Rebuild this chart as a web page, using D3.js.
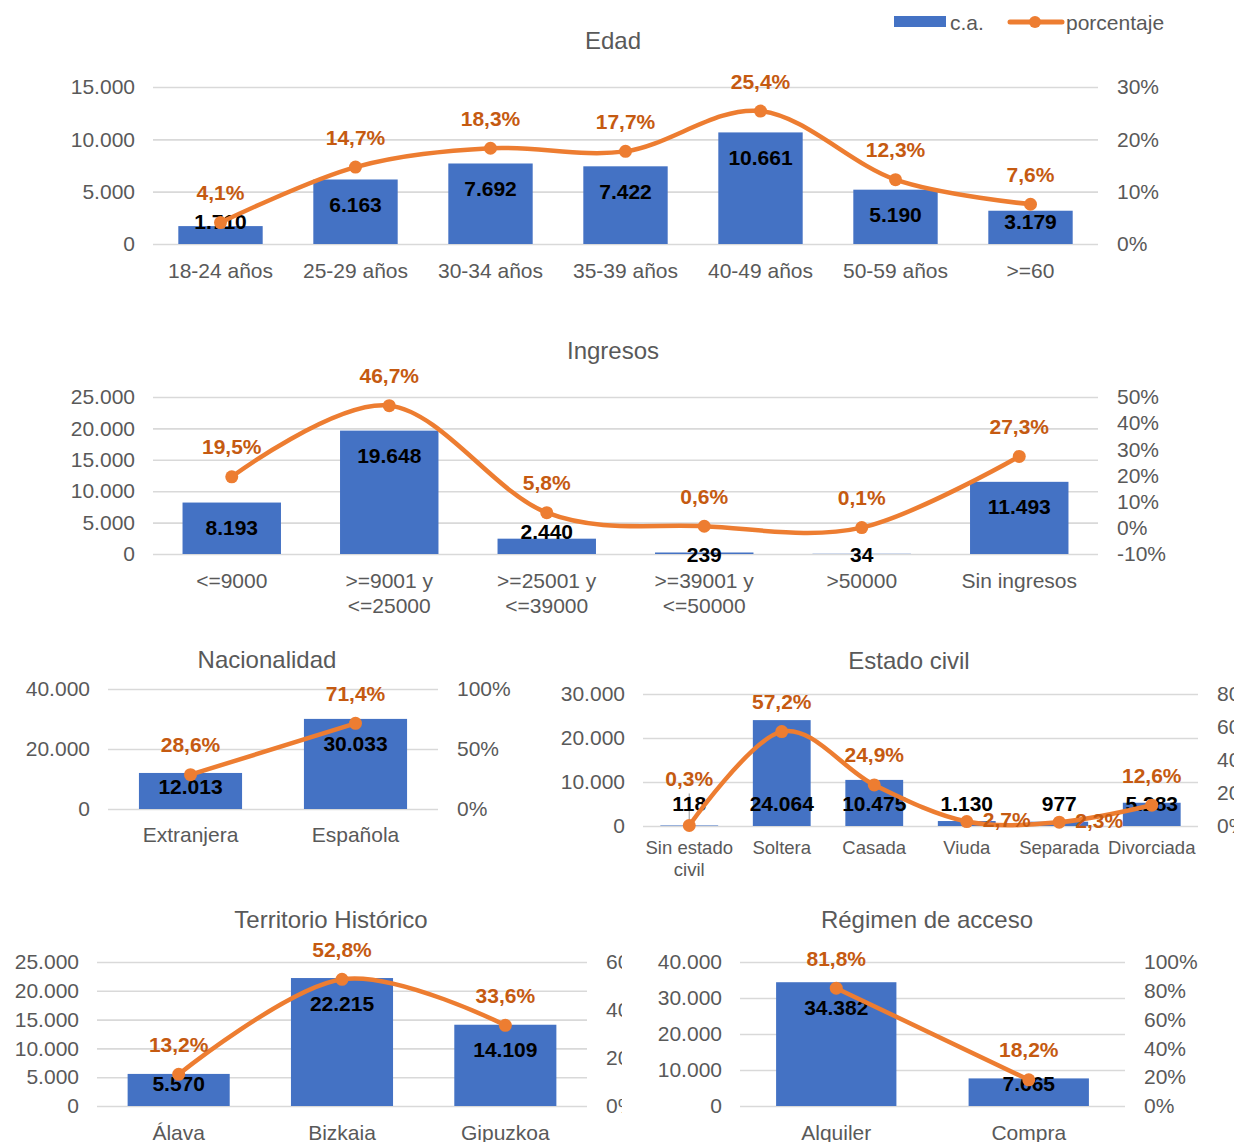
<!DOCTYPE html>
<html>
<head>
<meta charset="utf-8">
<script src="https://cdn.jsdelivr.net/npm/d3@7"></script>
<style>
  body { margin: 0; background: #fff; }
  text { font-family: "Liberation Sans", Arial, sans-serif; }
</style>
</head>
<body>
<script>
// --- data ---
const edadCats = ["18-24 años", "25-29 años", "30-34 años", "35-39 años", "40-49 años", "50-59 años", ">=60"];
const edadCa = [1710, 6163, 7692, 7422, 10661, 5190, 3179];
const edadPct = [4.1, 14.7, 18.3, 17.7, 25.4, 12.3, 7.6];

const ingresosCats = ["<=9000", ">=9001 y <=25000", ">=25001 y <=39000", ">=39001 y <=50000", ">50000", "Sin ingresos"];
const ingresosCa = [8193, 19648, 2440, 239, 34, 11493];
const ingresosPct = [19.5, 46.7, 5.8, 0.6, 0.1, 27.3];

const nacCats = ["Extranjera", "Española"];
const nacCa = [12013, 30033];
const nacPct = [28.6, 71.4];

const civilCats = ["Sin estado civil", "Soltera", "Casada", "Viuda", "Separada", "Divorciada"];
const civilCa = [118, 24064, 10475, 1130, 977, 5283];
const civilPct = [0.3, 57.2, 24.9, 2.7, 2.3, 12.6];

const terrCats = ["Álava", "Bizkaia", "Gipuzkoa"];
const terrCa = [5570, 22215, 14109];
const terrPct = [13.2, 52.8, 33.6];

const regCats = ["Alquiler", "Compra"];
const regCa = [34382, 7665];
const regPct = [81.8, 18.2];

const barColor = "#4472C4";
const lineColor = "#ED7D31";
const pctColor = "#C55A11";
const axisColor = "#595959";
const gridColor = "#D9D9D9";

const es = d3.formatLocale({decimal: ",", thousands: ".", grouping: [3], currency: ["", " €"]});
const fmtNum = es.format(",d");
const fmtPct = d => es.format(".1f")(d) + "%";

const svg = d3.select("body").append("svg")
    .attr("width", 1247)
    .attr("height", 1142);

const defs = svg.append("defs");

// legend
const legend = svg.append("g");
legend.append("rect").attr("x", 894).attr("y", 16).attr("width", 52).attr("height", 11).attr("fill", barColor);
legend.append("text").attr("x", 950).attr("y", 22).attr("dominant-baseline", "central")
    .attr("font-size", 21).attr("fill", axisColor).text("c.a.");
legend.append("line").attr("x1", 1010).attr("x2", 1062).attr("y1", 22).attr("y2", 22)
    .attr("stroke", lineColor).attr("stroke-width", 5).attr("stroke-linecap", "round");
legend.append("circle").attr("cx", 1035).attr("cy", 22).attr("r", 6).attr("fill", lineColor);
legend.append("text").attr("x", 1066).attr("y", 22).attr("dominant-baseline", "central")
    .attr("font-size", 21).attr("fill", axisColor).text("porcentaje");

function wrap(sel, width, lh) {
  sel.each(function() {
    const t = d3.select(this);
    const words = t.text().split(" ");
    const x = t.attr("x") || 0;
    t.text(null);
    let line = [];
    let tspan = t.append("tspan").attr("x", x).attr("dy", 0);
    for (const w of words) {
      line.push(w);
      tspan.text(line.join(" "));
      if (tspan.node().getComputedTextLength() > width && line.length > 1) {
        line.pop();
        tspan.text(line.join(" "));
        line = [w];
        tspan = t.append("tspan").attr("x", x).attr("dy", lh).text(w);
      }
    }
  });
}

let clipId = 0;

function panel(o) {
  const id = "clip" + (clipId++);
  defs.append("clipPath").attr("id", id)
    .append("rect").attr("x", 0).attr("y", o.yTop - 130).attr("width", o.clipX).attr("height", 420);
  const g = svg.append("g").attr("clip-path", `url(#${id})`);

  const x = d3.scaleBand().domain(o.cats).range([o.x0, o.x1])
      .paddingInner(0.375).paddingOuter(0.1875);
  const y = d3.scaleLinear().domain(o.yDom).range([o.base, o.yTop]);
  const y2 = d3.scaleLinear().domain(o.pDom).range([o.base, o.yTop]);

  // title
  g.append("text").attr("x", o.titleX).attr("y", o.titleY)
    .attr("text-anchor", "middle").attr("dominant-baseline", "central")
    .attr("font-size", 24).attr("fill", axisColor).text(o.title);

  // left axis + grid
  const ax = g.append("g").attr("transform", `translate(${o.x0},0)`)
    .call(d3.axisLeft(y).tickValues(d3.range(o.yDom[0], o.yDom[1] + 1, o.yStep))
      .tickSize(-(o.x1 - o.x0)).tickPadding(18).tickFormat(fmtNum));
  ax.select(".domain").remove();
  ax.selectAll("line").attr("stroke", gridColor).attr("stroke-width", 1.6);
  ax.selectAll("text").attr("font-size", 21).attr("fill", axisColor)
    .attr("font-family", "Liberation Sans, Arial, sans-serif");

  // right axis
  const ar = g.append("g").attr("transform", `translate(${o.x1},0)`)
    .call(d3.axisRight(y2).tickValues(d3.range(o.pDom[0], o.pDom[1] + 1, o.pStep))
      .tickSize(0).tickPadding(19).tickFormat(d => d + "%"));
  ar.select(".domain").remove();
  ar.selectAll("text").attr("font-size", 21).attr("fill", axisColor)
    .attr("font-family", "Liberation Sans, Arial, sans-serif");

  // categories
  g.append("g").selectAll("text").data(o.cats).join("text")
    .attr("x", d => x(d) + x.bandwidth() / 2)
    .attr("y", o.base + o.catOff)
    .attr("text-anchor", "middle").attr("dominant-baseline", "central")
    .attr("font-size", o.catSize).attr("fill", axisColor)
    .text(d => d)
    .call(wrap, x.step() - 4, o.catSize * 1.2);

  const rows = o.cats.map((c, i) => ({c, v: o.ca[i], p: o.pct[i], i}));

  // bars
  g.append("g").selectAll("rect").data(rows).join("rect")
    .attr("x", d => x(d.c))
    .attr("width", x.bandwidth())
    .attr("y", d => y(d.v))
    .attr("height", d => o.base - y(d.v))
    .attr("fill", barColor);

  // line
  const line = d3.line()
    .x(d => x(d.c) + x.bandwidth() / 2)
    .y(d => y2(d.p))
    .curve(d3.curveCardinal.tension(0));

  const pl = o.pctPos || [];
  // leader lines
  g.append("g").selectAll("line").data(rows.filter(d => pl[d.i] === "leader")).join("line")
    .attr("x1", d => x(d.c) + x.bandwidth() / 2)
    .attr("x2", d => x(d.c) + x.bandwidth() / 2)
    .attr("y1", d => y2(d.p) - 32).attr("y2", d => y2(d.p))
    .attr("stroke", "#A6A6A6").attr("stroke-width", 1.2);

  // bar labels
  g.append("g").selectAll("text").data(rows).join("text")
    .attr("x", d => x(d.c) + x.bandwidth() / 2)
    .attr("y", d => {
      const top = y(d.v);
      if (o.labelMode === "base") return o.base - 23;
      if (o.base - top < 4) return o.base;
      return Math.min(top + 25, o.base - 23);
    })
    .attr("text-anchor", "middle").attr("dominant-baseline", "central")
    .attr("font-size", 21).attr("font-weight", "bold").attr("fill", "#000")
    .text(d => fmtNum(d.v));

  g.append("path").datum(rows)
    .attr("d", line)
    .attr("fill", "none").attr("stroke", lineColor)
    .attr("stroke-width", 4.5).attr("stroke-linejoin", "round").attr("stroke-linecap", "round");

  g.append("g").selectAll("circle").data(rows).join("circle")
    .attr("cx", d => x(d.c) + x.bandwidth() / 2)
    .attr("cy", d => y2(d.p))
    .attr("r", 6.5).attr("fill", lineColor);

  // percent labels
  g.append("g").selectAll("text").data(rows).join("text")
    .attr("x", d => x(d.c) + x.bandwidth() / 2 + (pl[d.i] === "right" ? 16 : 0))
    .attr("y", d => y2(d.p) - (pl[d.i] === "right" ? 2 : pl[d.i] === "leader" ? 47 : 30))
    .attr("text-anchor", d => pl[d.i] === "right" ? "start" : "middle")
    .attr("dominant-baseline", "central")
    .attr("font-size", 21).attr("font-weight", "bold").attr("fill", pctColor)
    .text(d => fmtPct(d.p));
}

panel({title: "Edad", titleX: 613, titleY: 40, cats: edadCats, ca: edadCa, pct: edadPct,
  x0: 153, x1: 1098, yTop: 87, base: 244, yDom: [0, 15000], yStep: 5000, pDom: [0, 30], pStep: 10,
  catOff: 26, catSize: 21, labelMode: "end", clipX: 1247});

panel({title: "Ingresos", titleX: 613, titleY: 350, cats: ingresosCats, ca: ingresosCa, pct: ingresosPct,
  x0: 153, x1: 1098, yTop: 397, base: 554, yDom: [0, 25000], yStep: 5000, pDom: [-10, 50], pStep: 10,
  catOff: 26, catSize: 21, labelMode: "end", clipX: 1247});

panel({title: "Nacionalidad", titleX: 267, titleY: 659, cats: nacCats, ca: nacCa, pct: nacPct,
  x0: 108, x1: 438, yTop: 689, base: 809, yDom: [0, 40000], yStep: 20000, pDom: [0, 100], pStep: 50,
  catOff: 25, catSize: 21, labelMode: "end", clipX: 540});

panel({title: "Estado civil", titleX: 909, titleY: 660, cats: civilCats, ca: civilCa, pct: civilPct,
  x0: 643, x1: 1198, yTop: 694, base: 826, yDom: [0, 30000], yStep: 10000, pDom: [0, 80], pStep: 20,
  catOff: 21, catSize: 18.5, labelMode: "base", clipX: 1234,
  pctPos: ["leader", "above", "above", "right", "right", "above"]});

panel({title: "Territorio Histórico", titleX: 331, titleY: 919, cats: terrCats, ca: terrCa, pct: terrPct,
  x0: 97, x1: 587, yTop: 962, base: 1106, yDom: [0, 25000], yStep: 5000, pDom: [0, 60], pStep: 20,
  catOff: 26, catSize: 21, labelMode: "end", clipX: 622});

panel({title: "Régimen de acceso", titleX: 927, titleY: 919, cats: regCats, ca: regCa, pct: regPct,
  x0: 740, x1: 1125, yTop: 962, base: 1106, yDom: [0, 40000], yStep: 10000, pDom: [0, 100], pStep: 20,
  catOff: 26, catSize: 21, labelMode: "end", clipX: 1247});
</script>
</body>
</html>
